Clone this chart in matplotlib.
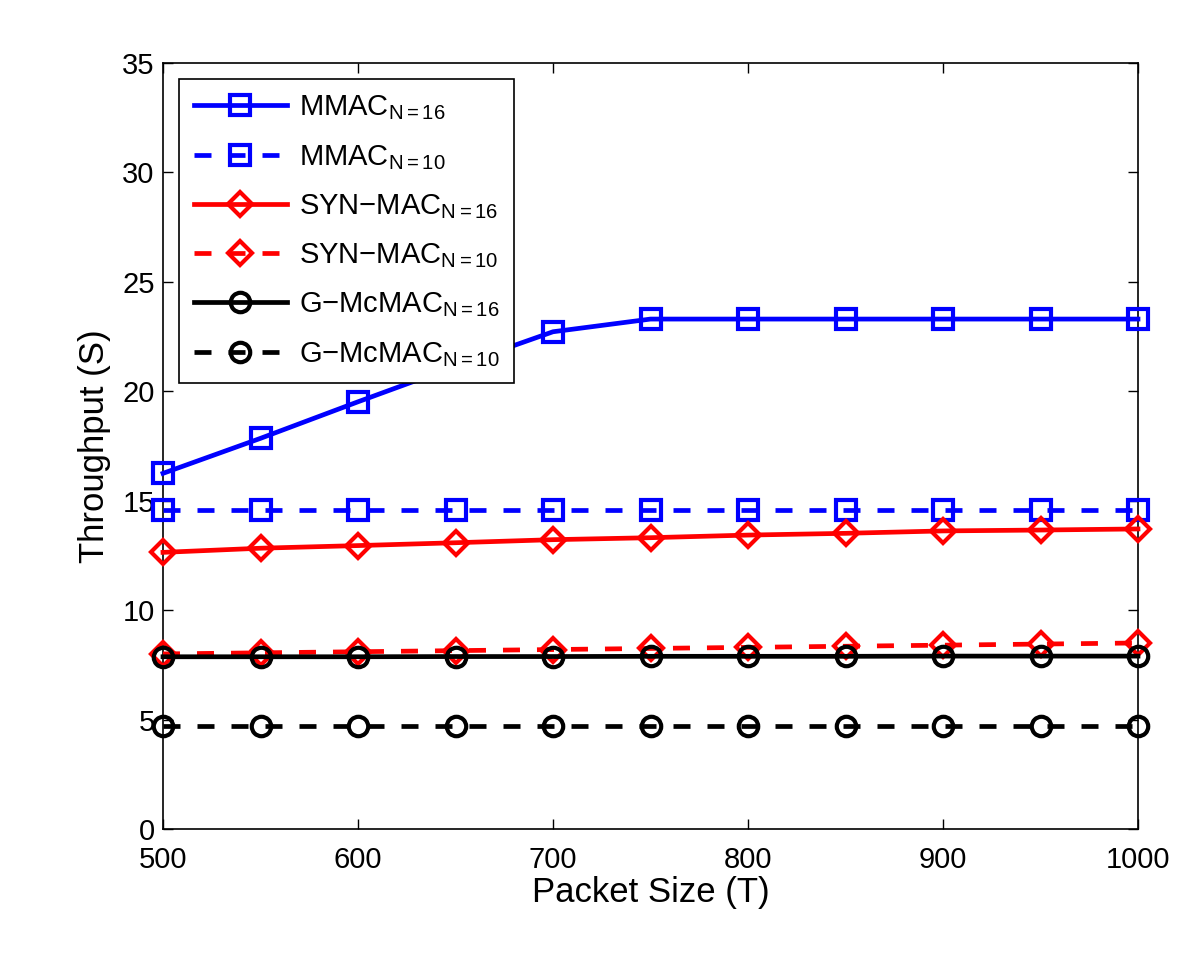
import matplotlib
matplotlib.use("Agg")
import matplotlib.pyplot as plt
import numpy as np

# === Data ===
packet_size = [500, 550, 600, 650, 700, 750, 800, 850, 900, 950, 1000]

mmac_16 = [16.25, 17.85, 19.52, 21.15, 22.72, 23.30, 23.30, 23.30, 23.30, 23.30, 23.30]
mmac_10 = [14.58, 14.58, 14.58, 14.58, 14.58, 14.58, 14.58, 14.58, 14.58, 14.58, 14.58]
syn_16 = [12.64, 12.83, 12.95, 13.08, 13.22, 13.31, 13.43, 13.51, 13.62, 13.66, 13.71]
syn_10 = [8.00, 8.05, 8.10, 8.15, 8.20, 8.25, 8.30, 8.35, 8.40, 8.45, 8.50]
gmc_16 = [7.87, 7.87, 7.87, 7.88, 7.88, 7.89, 7.89, 7.89, 7.90, 7.90, 7.90]
gmc_10 = [4.72, 4.72, 4.72, 4.72, 4.72, 4.72, 4.72, 4.72, 4.72, 4.72, 4.72]

labels = [r"MMAC$_{\mathrm{N{=}16}}$", r"MMAC$_{\mathrm{N{=}10}}$",
          r"SYN$-$MAC$_{\mathrm{N{=}16}}$", r"SYN$-$MAC$_{\mathrm{N{=}10}}$",
          r"G$-$McMAC$_{\mathrm{N{=}16}}$", r"G$-$McMAC$_{\mathrm{N{=}10}}$"]

plt.rcParams['font.family'] = ['Liberation Sans', 'DejaVu Sans']
plt.rcParams['mathtext.fontset'] = 'custom'
plt.rcParams['mathtext.rm'] = 'Liberation Sans'
plt.rcParams['mathtext.it'] = 'Liberation Sans'

fig = plt.figure(figsize=(12, 9.64), dpi=100)
ax = fig.add_axes([163 / 1200, 1 - 829 / 964, (1138 - 163) / 1200, (829 - 63) / 964])

lw = 3.4
ms = 14
mew = 3.0
dash = (0, (3.6, 3.6))

series = [
    (mmac_16, 'blue', '-', 's'),
    (mmac_10, 'blue', dash, 's'),
    (syn_16, 'red', '-', 'D'),
    (syn_10, 'red', dash, 'D'),
    (gmc_16, 'black', '-', 'o'),
    (gmc_10, 'black', dash, 'o'),
]
for (vals, col, ls, mk), lab in zip(series, labels):
    ms_i = ms - 2 if mk == 'D' else ms
    ax.plot(packet_size, vals, color=col, linestyle=ls, linewidth=lw,
            marker=mk, markersize=ms_i, markerfacecolor='none',
            markeredgewidth=mew, markeredgecolor=col, label=lab,
            clip_on=False, zorder=3)

ax.set_xlim(500, 1000)
ax.set_ylim(0, 35)
ax.set_xticks(np.arange(500, 1001, 100))
ax.set_yticks(np.arange(0, 36, 5))
ax.tick_params(direction='in', length=7, width=1, top=True, right=True,
               labelsize=21)
ax.tick_params(axis='x', pad=12)
ax.tick_params(axis='y', pad=6)
for sp in ax.spines.values():
    sp.set_linewidth(1.2)

ax.set_xlabel("Packet Size (T)", fontsize=25, labelpad=2)
ax.set_ylabel("Throughput (S)", fontsize=25, labelpad=8)

leg = ax.legend(loc='upper left', fontsize=21, numpoints=1, handlelength=3.2,
                fancybox=False, framealpha=1, edgecolor='black',
                borderaxespad=0.55, labelspacing=0.7, handletextpad=0.4,
                borderpad=0.5)
leg.get_frame().set_linewidth(1.2)
leg.set_zorder(5)

fig.savefig("out.png", dpi=100)
